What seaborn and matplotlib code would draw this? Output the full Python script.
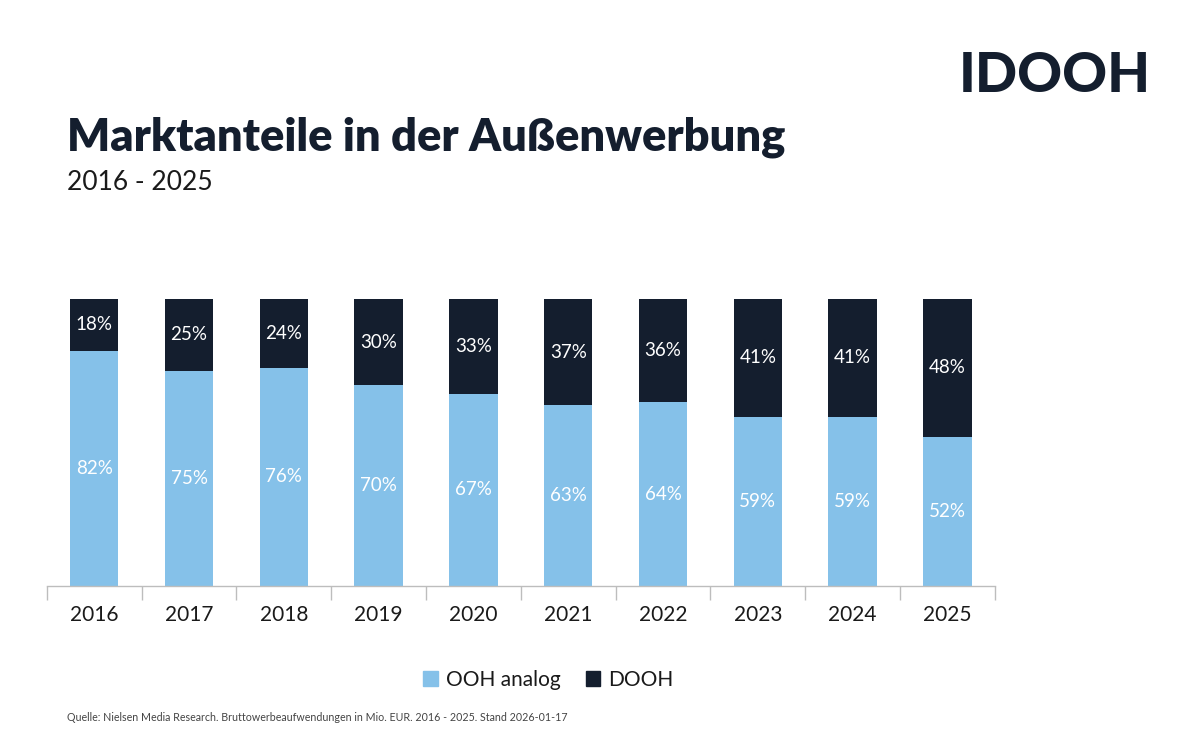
import numpy as np
import pandas as pd
import seaborn as sns
import matplotlib.pyplot as plt
from matplotlib.patches import Patch

years = ['2016', '2017', '2018', '2019', '2020', '2021', '2022', '2023', '2024', '2025']
ooh_analog = [82, 75, 76, 70, 67, 63, 64, 59, 59, 52]
dooh = [18, 25, 24, 30, 33, 37, 36, 41, 41, 48]

light_blue = '#85C1E9'
navy = '#141E2E'

sns.set_theme(style='white')
plt.rcParams['font.family'] = ['Lato', 'DejaVu Sans']

df = pd.DataFrame({'Jahr': years, 'OOH analog': ooh_analog, 'DOOH': dooh})
df['Gesamt'] = df['OOH analog'] + df['DOOH']

fig = plt.figure(figsize=(12, 7.5), dpi=100)
ax = fig.add_axes([0.039, 0.2187, 0.79, 0.3826])

# stacked bars: full height in navy, analog part drawn over it in light blue
sns.barplot(data=df, x='Jahr', y='Gesamt', color=navy, width=0.51, saturation=1, linewidth=0, ax=ax)
sns.barplot(data=df, x='Jahr', y='OOH analog', color=light_blue, width=0.51, saturation=1, linewidth=0, ax=ax)

for i, (a, d) in enumerate(zip(ooh_analog, dooh)):
    ax.text(i, a / 2, f'{a}%', ha='center', va='center', color='white', fontsize=13.5)
    ax.text(i, a + d / 2, f'{d}%', ha='center', va='center', color='white', fontsize=13.5)

ax.set_xlim(-0.5, len(years) - 0.5)
ax.set_ylim(0, 100)
ax.set_xlabel('')
ax.set_ylabel('')
ax.set_yticks([])
for s in ['top', 'right', 'left']:
    ax.spines[s].set_visible(False)
ax.spines['bottom'].set_color('#BDBDBD')
ax.spines['bottom'].set_linewidth(1)
ax.set_xticks(np.arange(-0.5, len(years), 1), minor=True)
ax.tick_params(axis='x', which='minor', length=10, color='#BDBDBD', width=1, direction='out', bottom=True)
ax.tick_params(axis='x', which='major', length=0, labelsize=15, labelcolor='#1a1a1a', pad=14)

handles = [Patch(color=light_blue, label='OOH analog'), Patch(color=navy, label='DOOH')]
fig.legend(handles=handles, loc='center', bbox_to_anchor=(0.457, 0.094), ncol=2, frameon=False,
           fontsize=15, handlelength=0.7, handleheight=0.7, handletextpad=0.4, columnspacing=1.2,
           labelcolor='#1a1a1a')

fig.text(0.056, 0.817, 'Marktanteile in der Außenwerbung', fontsize=32.5, fontweight='heavy',
         color=navy, va='center', ha='left')
fig.text(0.056, 0.757, '2016 - 2025', fontsize=19, color='#1a1a1a', va='center', ha='left')
fig.text(0.056, 0.043, 'Quelle: Nielsen Media Research. Bruttowerbeaufwendungen in Mio. EUR. 2016 - 2025. Stand 2026-01-17',
         fontsize=7.7, color='#444444', va='center', ha='left')
fig.text(0.959, 0.898, 'IDOOH', fontsize=40, fontweight='black', color=navy, va='center', ha='right')

fig.savefig('out.png', dpi=100)
